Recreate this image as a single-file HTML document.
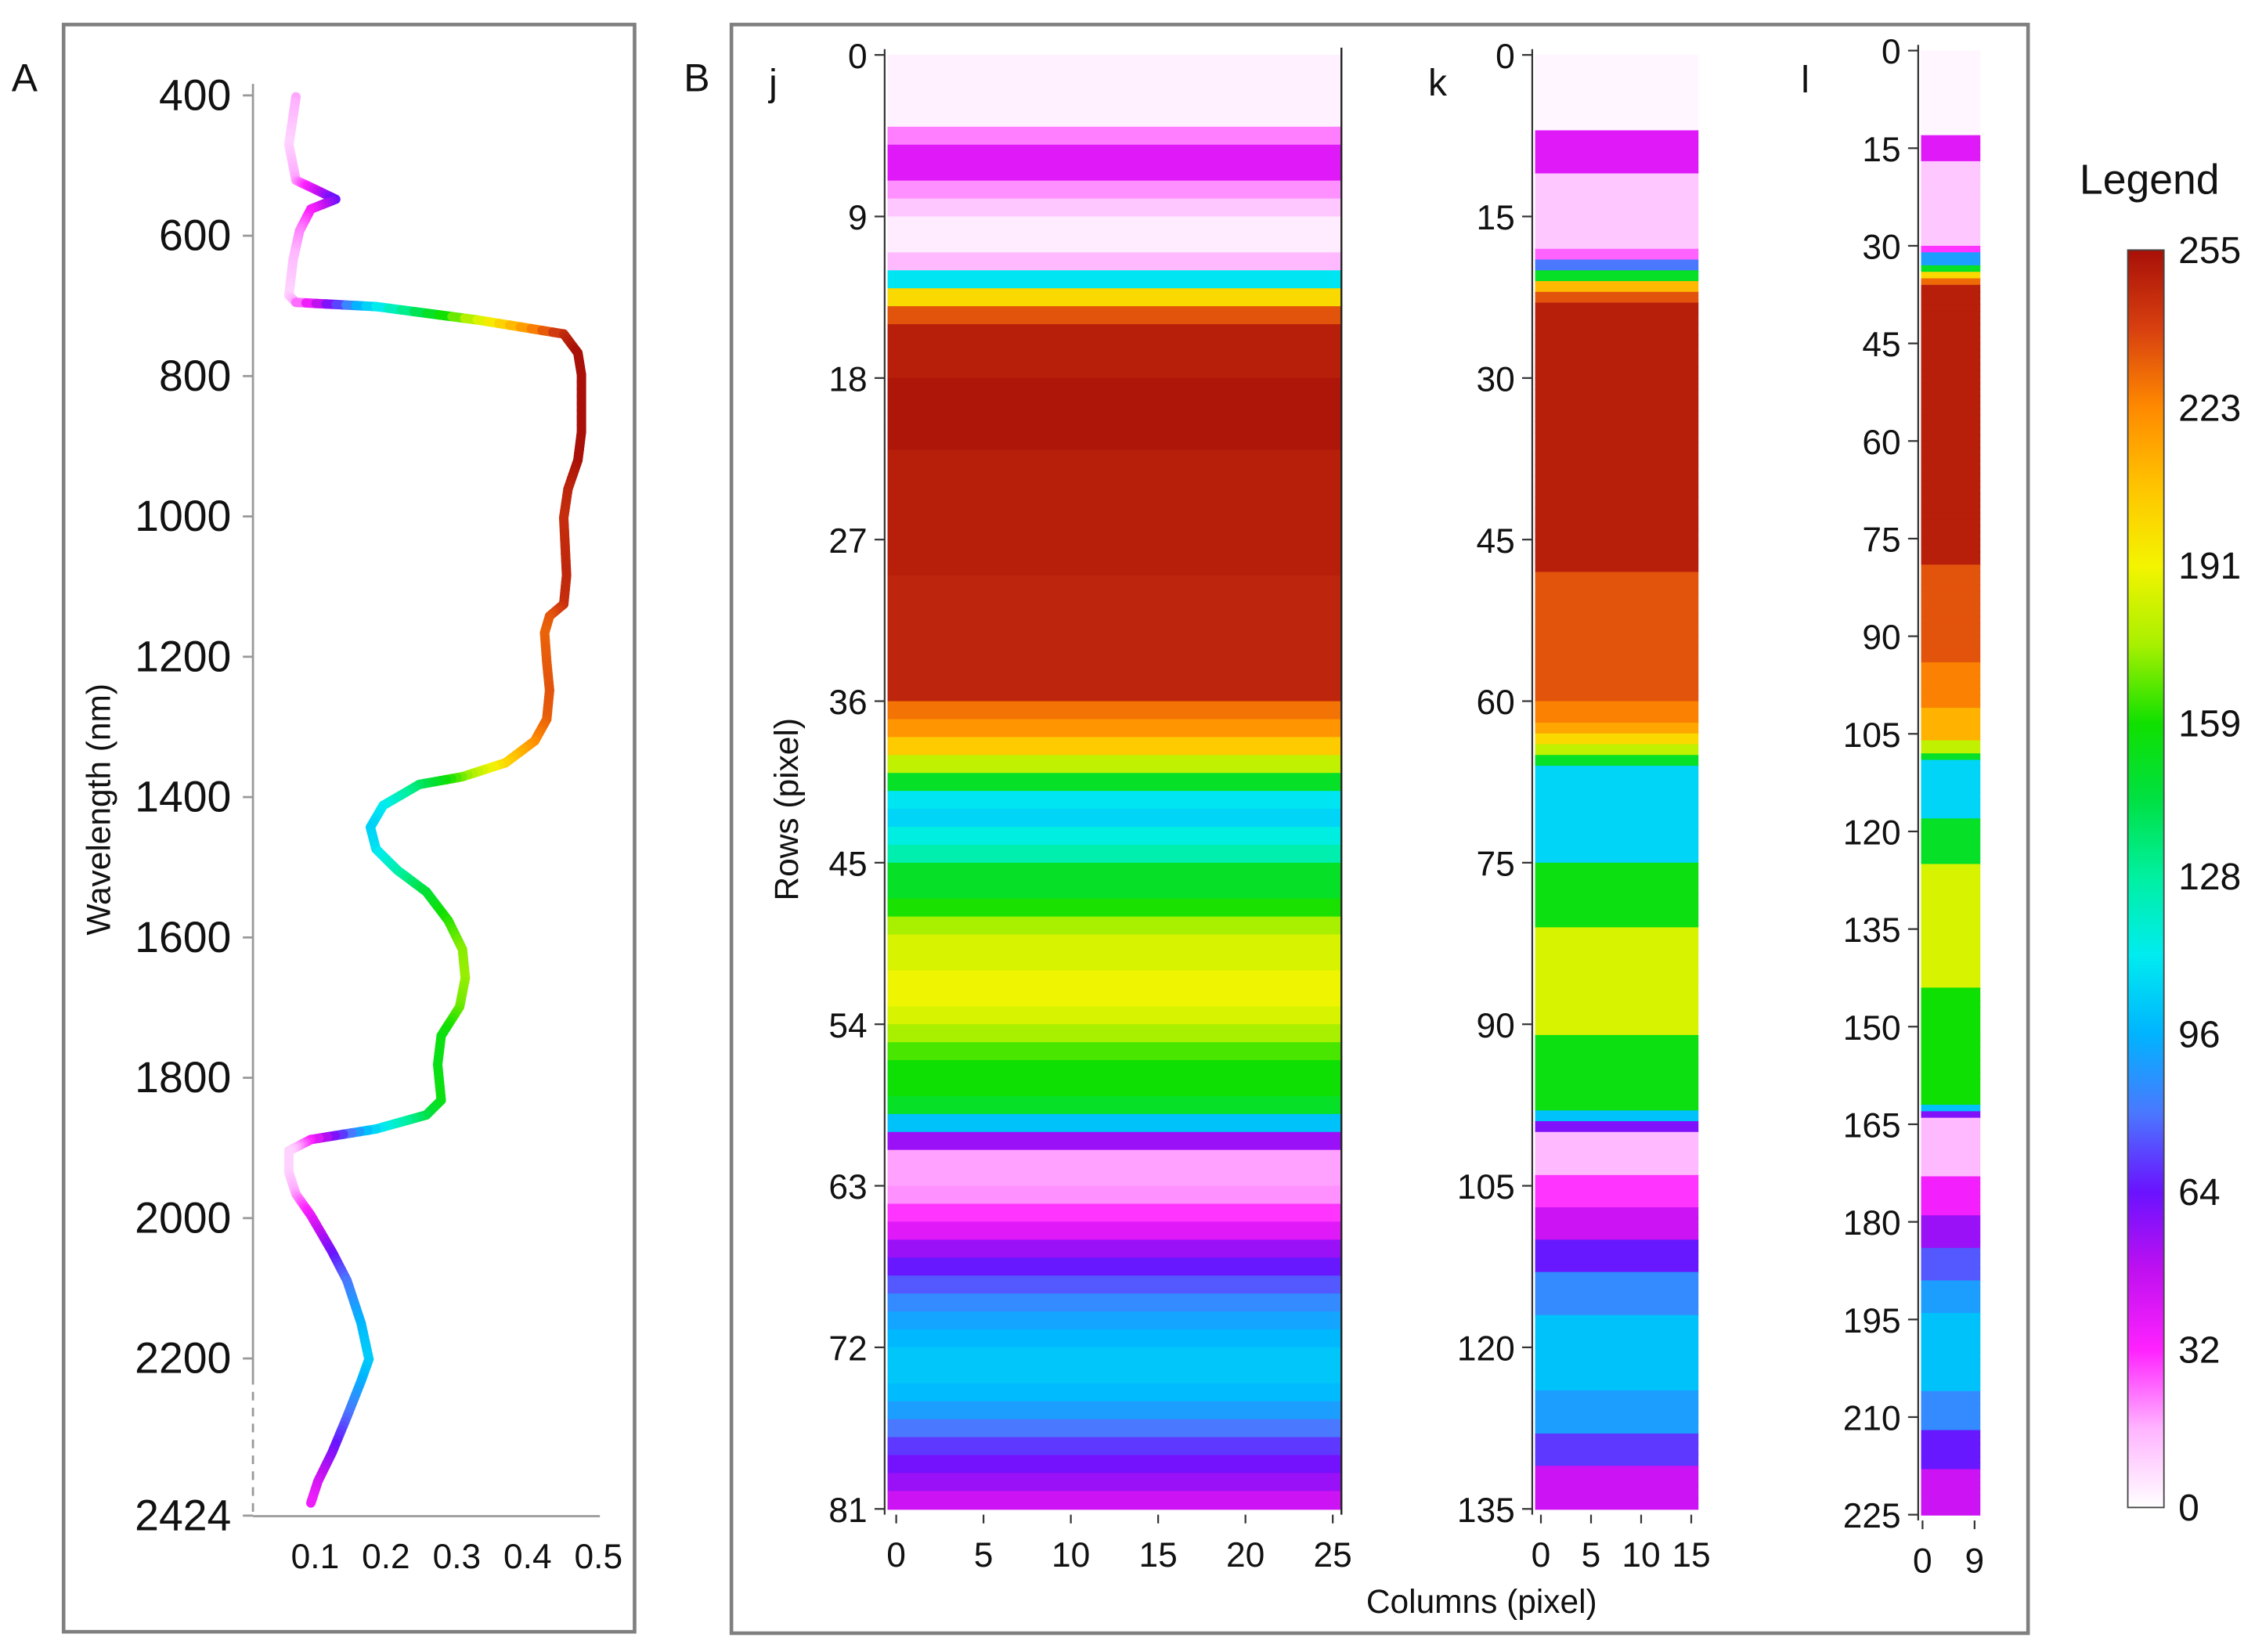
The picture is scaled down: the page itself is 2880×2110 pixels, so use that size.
<!DOCTYPE html>
<html><head><meta charset="utf-8">
<style>
html,body{margin:0;padding:0;background:#fff;}
svg{display:block;}
text{font-family:"Liberation Sans",Arial,sans-serif;fill:#111;}
</style></head>
<body>
<svg id="fig" width="2880" height="2110" viewBox="0 0 1560 1143" preserveAspectRatio="none" xmlns="http://www.w3.org/2000/svg">
  <rect x="44" y="17" width="395" height="1112" fill="none" stroke="#7f7f7f" stroke-width="2.5"/>
  <rect x="506" y="17" width="897" height="1113" fill="none" stroke="#7f7f7f" stroke-width="2.5"/>
  <text x="8" y="63" font-size="27">A</text>
  <text x="473" y="63" font-size="27">B</text>
  <text x="532" y="66" font-size="26">j</text>
  <text x="988" y="66" font-size="26">k</text>
  <text x="1246" y="64" font-size="26">l</text>
  <text transform="translate(76,560) rotate(-90)" text-anchor="middle" font-size="23">Wavelength (nm)</text>
  <text transform="translate(552,560) rotate(-90)" text-anchor="middle" font-size="23">Rows (pixel)</text>
  <text x="1025" y="1116" text-anchor="middle" font-size="23">Columns (pixel)</text>
  <text x="1487" y="134" text-anchor="middle" font-size="29">Legend</text>
  <defs><linearGradient id="cbar" x1="0" y1="1" x2="0" y2="0"></linearGradient></defs>
  <g id="gA"></g>
  <g id="gJ"></g>
  <g id="gK"></g>
  <g id="gL"></g>
  <g id="gLeg"></g>
</svg>
<script>
// ---- Panel A data ----
const wavelengths = [402,470,521,531,548,562,593,634,685,695,701,720,740,767,798,880,920,961,1002,1084,1125,1142,1166,1207,1248,1289,1320,1351,1371,1382,1412,1443,1474,1504,1535,1576,1617,1658,1699,1740,1781,1832,1853,1873,1888,1904,1935,1966,1996,2048,2089,2150,2201,2232,2283,2334,2375,2406];
const reflectance = [0.073,0.063,0.073,0.094,0.129,0.094,0.078,0.069,0.063,0.073,0.186,0.329,0.451,0.471,0.476,0.476,0.471,0.457,0.451,0.455,0.451,0.431,0.424,0.427,0.431,0.427,0.41,0.369,0.308,0.247,0.196,0.178,0.186,0.216,0.257,0.288,0.308,0.312,0.304,0.278,0.273,0.278,0.257,0.186,0.094,0.063,0.063,0.073,0.094,0.124,0.145,0.165,0.176,0.165,0.145,0.124,0.104,0.094];
const wlTicks = [400,600,800,1000,1200,1400,1600,1800,2000,2200,2424];
const refTicks = ['0.1','0.2','0.3','0.4','0.5'];
// ---- Heatmap data (row runs: start row, value 0-255) ----
const jRowStart = [0,4,5,7,8,9,11,12,13,14,15,18,22,29,36,37,38,39,40,41,42,43,44,45,47,48,49,51,53,54,55,56,58,59,60,61,63,64,65,66,67,68,69,70,71,72,74,75,76,77,78,79,80];
const jRowValue = [3,22,40,20,12,4,15,110,200,235,250,253,250,248,228,220,205,180,150,110,105,115,125,150,160,175,185,190,185,175,165,158,150,100,55,18,20,30,40,55,65,75,85,92,97,101,98,90,80,70,62,55,45];
const kRowStart = [0,7,11,18,19,20,21,22,23,48,60,62,63,64,65,66,75,81,91,98,99,100,104,107,110,113,117,124,128,131];
const kRowValue = [2,40,12,25,80,150,210,235,250,235,225,215,200,180,150,105,155,185,155,100,60,15,30,45,65,85,100,90,70,45];
const lRowStart = [0,13,17,30,31,33,34,35,36,79,94,101,106,108,109,118,125,144,162,163,164,173,179,184,189,194,206,212,218];
const lRowValue = [2,40,12,30,90,150,200,230,250,235,225,212,180,150,105,150,185,158,100,60,15,35,55,75,90,100,85,65,45];
const jTicks = [0,9,18,27,36,45,54,63,72,81];
const kTicks = [0,15,30,45,60,75,90,105,120,135];
const lTicks = [0,15,30,45,60,75,90,105,120,135,150,165,180,195,210,225];
const legendTicks = [0,32,64,96,128,159,191,223,255];

const NS='http://www.w3.org/2000/svg';
const stops=[[0,'#ffffff'],[16,'#ffb4ff'],[32,'#ff22ff'],[48,'#c010f0'],[64,'#6a12ff'],[80,'#4a78ff'],[96,'#00b4ff'],[112,'#00ecf0'],[128,'#00f0a0'],[144,'#00e040'],[159,'#10e000'],[175,'#a8f000'],[191,'#f4f400'],[207,'#ffc400'],[223,'#ff8a00'],[239,'#d84010'],[255,'#a81008']];
function hex(h){return [1,3,5].map(i=>parseInt(h.substr(i,2),16));}
function cmap(v){v=Math.max(0,Math.min(255,v));for(let i=1;i<stops.length;i++){if(v<=stops[i][0]){const a=stops[i-1],b=stops[i];const t=(v-a[0])/(b[0]-a[0]);const c1=hex(a[1]),c2=hex(b[1]);return 'rgb('+c1.map((c,k)=>Math.round(c+(c2[k]-c)*t)).join(',')+')';}}return stops[stops.length-1][1];}
function refToLevel(v){return v<0.17?(v-0.052)*850:100+(v-0.17)*517;}
function mk(tag,attrs,parent){const e=document.createElementNS(NS,tag);for(const k in attrs)e.setAttribute(k,attrs[k]);parent.appendChild(e);return e;}

// ---- Panel A ----
const gA=document.getElementById('gA');
const yA=w=>66+(w-400)*0.4855;
const xA=v=>169+v*490;
let ax=mk('line',{x1:175,y1:58,x2:175,y2:952,stroke:'#999','stroke-width':1.5},gA);


let ax2=mk('line',{x1:175,y1:952,x2:175,y2:1049,stroke:'#999','stroke-width':1.5,'stroke-dasharray':'6,5'},gA);


let ax3=mk('line',{x1:175,y1:1049,x2:415,y2:1049,stroke:'#999','stroke-width':1.5},gA);


wlTicks.forEach(w=>{const y=yA(w);
  const t=mk('line',{x1:168,y1:y,x2:175,y2:y,stroke:'#999','stroke-width':1.5},gA);
  
  
  const l=mk('text',{x:160,y:y+10,'text-anchor':'end','font-size':30},gA);l.textContent=w;
  
  
});
refTicks.forEach(s=>{const x=xA(parseFloat(s));
  const l=mk('text',{x:x,y:1085,'text-anchor':'middle','font-size':24},gA);l.textContent=s;
  
  
});
const SUB=8;
for(let i=0;i<wavelengths.length-1;i++){
  for(let s=0;s<SUB;s++){
    const t0=s/SUB,t1=(s+1)/SUB;
    const r0=reflectance[i]+(reflectance[i+1]-reflectance[i])*t0, r1=reflectance[i]+(reflectance[i+1]-reflectance[i])*t1;
    const w0=wavelengths[i]+(wavelengths[i+1]-wavelengths[i])*t0, w1=wavelengths[i]+(wavelengths[i+1]-wavelengths[i])*t1;
    const seg=mk('line',{x1:xA(r0),y1:yA(w0),x2:xA(r1),y2:yA(w1),stroke:cmap(refToLevel((r0+r1)/2)),'stroke-width':6.5,'stroke-linecap':'round'},gA);
    
    
  }
}

// ---- Heatmaps ----
function valAt(starts,vals,r){let v=vals[0];for(let i=0;i<starts.length;i++){if(r>=starts[i])v=vals[i];}return v;}
function heat(gid,starts,vals,nRows,nCols,x0,x1,y0,y1,ticks,colTicks,colX0,colX1,name){
  const g=document.getElementById(gid);
  const rh=(y1-y0)/nRows;
  for(let r=0;r<nRows;r++){
    const c=mk('rect',{x:x0,y:y0+r*rh,width:x1-x0,height:rh+0.6,fill:cmap(valAt(starts,vals,r))},g);
    
    
  }
  const a=mk('line',{x1:x0-2,y1:y0-4,x2:x0-2,y2:y1+4,stroke:'#333','stroke-width':1.2},g);
  
  
  ticks.forEach(t=>{const y=y0+t*(y1-y0)/nRows;
    const tk=mk('line',{x1:x0-9,y1:y,x2:x0-2,y2:y,stroke:'#333','stroke-width':1.2},g);
    
    
    const l=mk('text',{x:x0-14,y:y+9,'text-anchor':'end','font-size':24},g);l.textContent=t;
    
    
  });
  colTicks.forEach(t=>{const x=colX0+t*(colX1-colX0)/(nCols-1);
    const tk=mk('line',{x1:x,y1:y1+4,x2:x,y2:y1+10,stroke:'#333','stroke-width':1.2},g);
    
    
    const l=mk('text',{x:x,y:y1+40,'text-anchor':'middle','font-size':24},g);l.textContent=t;
    
    
  });
  return g;
}
const gJ=heat('gJ',jRowStart,jRowValue,81,26,614,928,38,1044,jTicks,[0,5,10,15,20,25],620,922,'heatmap-j');
const rb=mk('line',{x1:928,y1:33,x2:928,y2:1048,stroke:'#222','stroke-width':1.3},gJ);


heat('gK',kRowStart,kRowValue,135,16,1062,1175,38,1044,kTicks,[0,5,10,15],1066,1170,'heatmap-k');
heat('gL',lRowStart,lRowValue,225,10,1329,1370,35,1048,lTicks,[0,9],1330,1366,'heatmap-l');

// ---- Colorbar ----
const grad=document.getElementById('cbar');
stops.forEach(s=>{mk('stop',{offset:(s[0]/255*100)+'%','stop-color':s[1]},grad);});
const gLeg=document.getElementById('gLeg');
const cb=mk('rect',{x:1472,y:173,width:25,height:870,fill:'url(#cbar)',stroke:'#444','stroke-width':1},gLeg);


legendTicks.forEach(t=>{const y=1043-t/255*870;
  const l=mk('text',{x:1507,y:y+9,'font-size':26},gLeg);l.textContent=t;
  
  
});
</script>
</body></html>
